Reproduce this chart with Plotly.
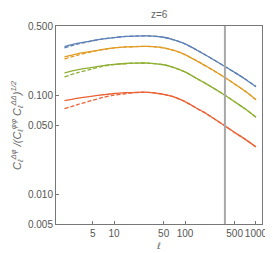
import numpy as np
import plotly.graph_objects as go

# multipole grid
ell = [2, 3, 5, 7, 10, 15, 20, 30, 50, 70, 100, 150, 200, 365, 500, 700, 1000]

# solid curves
blue   = [0.310, 0.333, 0.355, 0.370, 0.382, 0.392, 0.396, 0.397, 0.385, 0.362, 0.330, 0.283, 0.252, 0.195, 0.170, 0.146, 0.122]
orange = [0.244, 0.262, 0.279, 0.290, 0.300, 0.307, 0.310, 0.311, 0.301, 0.283, 0.257, 0.220, 0.196, 0.151, 0.130, 0.110, 0.090]
green  = [0.168, 0.180, 0.191, 0.199, 0.205, 0.209, 0.211, 0.211, 0.203, 0.190, 0.172, 0.146, 0.130, 0.100, 0.086, 0.073, 0.060]
red    = [0.088, 0.093, 0.098, 0.101, 0.104, 0.106, 0.107, 0.107, 0.102, 0.096, 0.086, 0.073, 0.065, 0.049, 0.042, 0.036, 0.030]

# dashed curves
blue_d   = [0.300, 0.327, 0.354, 0.370, 0.382, 0.392, 0.396, 0.397, 0.385, 0.362, 0.330, 0.283, 0.252, 0.195, 0.170, 0.146, 0.122]
orange_d = [0.232, 0.253, 0.276, 0.289, 0.300, 0.307, 0.310, 0.311, 0.301, 0.283, 0.257, 0.220, 0.196, 0.151, 0.130, 0.110, 0.090]
green_d  = [0.153, 0.168, 0.185, 0.196, 0.204, 0.209, 0.211, 0.211, 0.203, 0.190, 0.172, 0.146, 0.130, 0.100, 0.086, 0.073, 0.060]
red_d    = [0.073, 0.080, 0.089, 0.095, 0.100, 0.104, 0.106, 0.107, 0.102, 0.096, 0.086, 0.073, 0.065, 0.049, 0.042, 0.036, 0.030]

colors = ["#5E81B5", "#E19C24", "#8FB032", "#EB6235"]
vline_ell = 365

x_ticks = [5, 10, 50, 100, 500, 1000]
y_ticks = [0.005, 0.01, 0.05, 0.1, 0.5]
y_ticklabels = ["0.005", "0.010", "0.050", "0.100", "0.500"]

fig = go.Figure()
for ys, c in zip([blue_d, orange_d, green_d, red_d], colors):
    fig.add_trace(go.Scatter(x=ell, y=ys, mode="lines",
                             line=dict(color=c, width=1.3, dash="4px,2px", shape="spline", smoothing=0.8),
                             showlegend=False, hoverinfo="skip"))
for ys, c in zip([blue, orange, green, red], colors):
    fig.add_trace(go.Scatter(x=ell, y=ys, mode="lines",
                             line=dict(color=c, width=1.3, shape="spline", smoothing=0.8),
                             showlegend=False, hoverinfo="skip"))

fig.add_shape(type="line", x0=vline_ell, x1=vline_ell, xref="x", y0=0, y1=1, yref="paper",
              line=dict(color="#a8a8a8", width=2))

font_tick = dict(family="Liberation Sans, Arial, sans-serif", size=10, color="#555555")

fig.update_layout(
    width=273, height=253,
    margin=dict(l=48, r=19, t=18, b=29),
    paper_bgcolor="white", plot_bgcolor="white",
    xaxis=dict(type="log", range=[np.log10(1.52), np.log10(1216)],
               tickvals=x_ticks, ticktext=[str(v) for v in x_ticks], tickangle=0,
               ticks="inside", ticklen=3, tickcolor="#777777",
               showline=True, linecolor="#777777", linewidth=1, mirror=True,
               showgrid=False, zeroline=False, tickfont=font_tick,
               title=dict(text="<i>ℓ</i>", standoff=4,
                          font=dict(family="DejaVu Sans, sans-serif", size=9, color="#666666"))),
    yaxis=dict(type="log", range=[np.log10(0.005), np.log10(0.5)],
               tickvals=y_ticks, ticktext=y_ticklabels, tickangle=0,
               ticks="inside", ticklen=3, tickcolor="#777777",
               showline=True, linecolor="#777777", linewidth=1, mirror=True,
               showgrid=False, zeroline=False, tickfont=font_tick),
    annotations=[
        dict(text="z=6", x=0.5, y=1.0, xref="paper", yref="paper", yshift=4,
             xanchor="center", yanchor="bottom", showarrow=False,
             font=dict(family="Liberation Sans, Arial, sans-serif", size=10, color="#666666")),
        dict(text="<i>C<sub>ℓ</sub><sup>Δφ</sup> /(C<sub>ℓ</sub><sup>φφ</sup> C<sub>ℓ</sub><sup>ΔΔ</sup>)<sup>1/2</sup></i>",
             x=0, y=0.5, xref="paper", yref="paper", xshift=-39,
             xanchor="center", yanchor="middle", textangle=-90, showarrow=False,
             font=dict(family="Liberation Sans, Arial, sans-serif", size=11, color="#666666")),
    ],
)

fig.write_html("out.html")
